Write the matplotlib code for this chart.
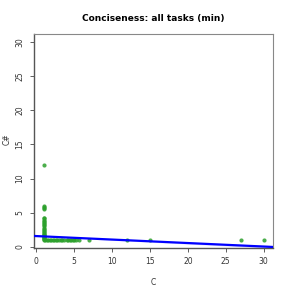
import matplotlib
matplotlib.use("Agg")
import matplotlib.pyplot as plt
import numpy as np

# data
x_at1_y = [1.0, 1.1, 1.2, 1.3, 1.4, 1.5, 1.6, 1.7, 1.8, 1.9, 2.0, 2.2, 2.3, 2.5, 2.7, 2.8,
           3.0, 3.2, 3.3, 3.5, 3.7, 3.8, 4.0, 4.2, 4.3, 5.5, 5.7, 5.8, 6.0, 12.0]
row_x = [1.2, 1.4, 1.6, 1.8, 2.0, 2.2, 2.4, 2.6, 2.8, 3.0, 3.2, 3.4, 3.7,
         4.0, 4.2, 4.4, 4.6, 4.8, 5.0, 5.3, 5.7, 7, 12, 15, 27, 30]
row_y = [1.0] * len(row_x)
fit_intercept = 1.6
fit_slope = -0.051
xticks = [0, 5, 10, 15, 20, 25, 30]
yticks = [0, 5, 10, 15, 20, 25, 30]

xs = [1.0] * len(x_at1_y) + row_x
ys = x_at1_y + row_y

fig = plt.figure(figsize=(2.91, 2.91), dpi=100)
ax = fig.add_axes([0.1168, 0.1488, 0.823, 0.736])
ax.scatter(xs, ys, s=9, color="#2ca02c", alpha=0.85, linewidths=0, zorder=3)

lx = np.linspace(-1, 32, 100)
ly = fit_intercept + fit_slope * lx
band = 0.08 + 0.004 * np.abs(lx - 3)
ax.fill_between(lx, ly - band, ly + band, color="#9999ff", alpha=0.35, linewidth=0, zorder=2)
ax.plot(lx, ly, color="#0000ff", lw=1.6, zorder=4)

ax.set_xlim(-0.3, 31.3)
ax.set_ylim(-0.1, 31.2)
ax.set_xticks(xticks)
ax.set_yticks(yticks)
ax.tick_params(axis="both", labelsize=5.5, length=3, width=0.6, color="#444444", labelcolor="#333333", pad=4)
for lab in ax.get_yticklabels():
    lab.set_rotation(90)
    lab.set_va("center")
for s in ["top", "right"]:
    ax.spines[s].set_color("#888888")
    ax.spines[s].set_linewidth(0.8)
for s in ["left", "bottom"]:
    ax.spines[s].set_color("#555555")
    ax.spines[s].set_linewidth(1.0)

ax.set_xlabel("C", fontsize=5.5, color="#333333", labelpad=8)
fig.text(7 / 291, 0.52, "C#", rotation=90, ha="center", va="center", fontsize=5.5, color="#333333")
ax.set_title("Conciseness: all tasks (min)", fontsize=6.5, fontweight="bold", pad=9)

fig.savefig("out.png", dpi=100)
